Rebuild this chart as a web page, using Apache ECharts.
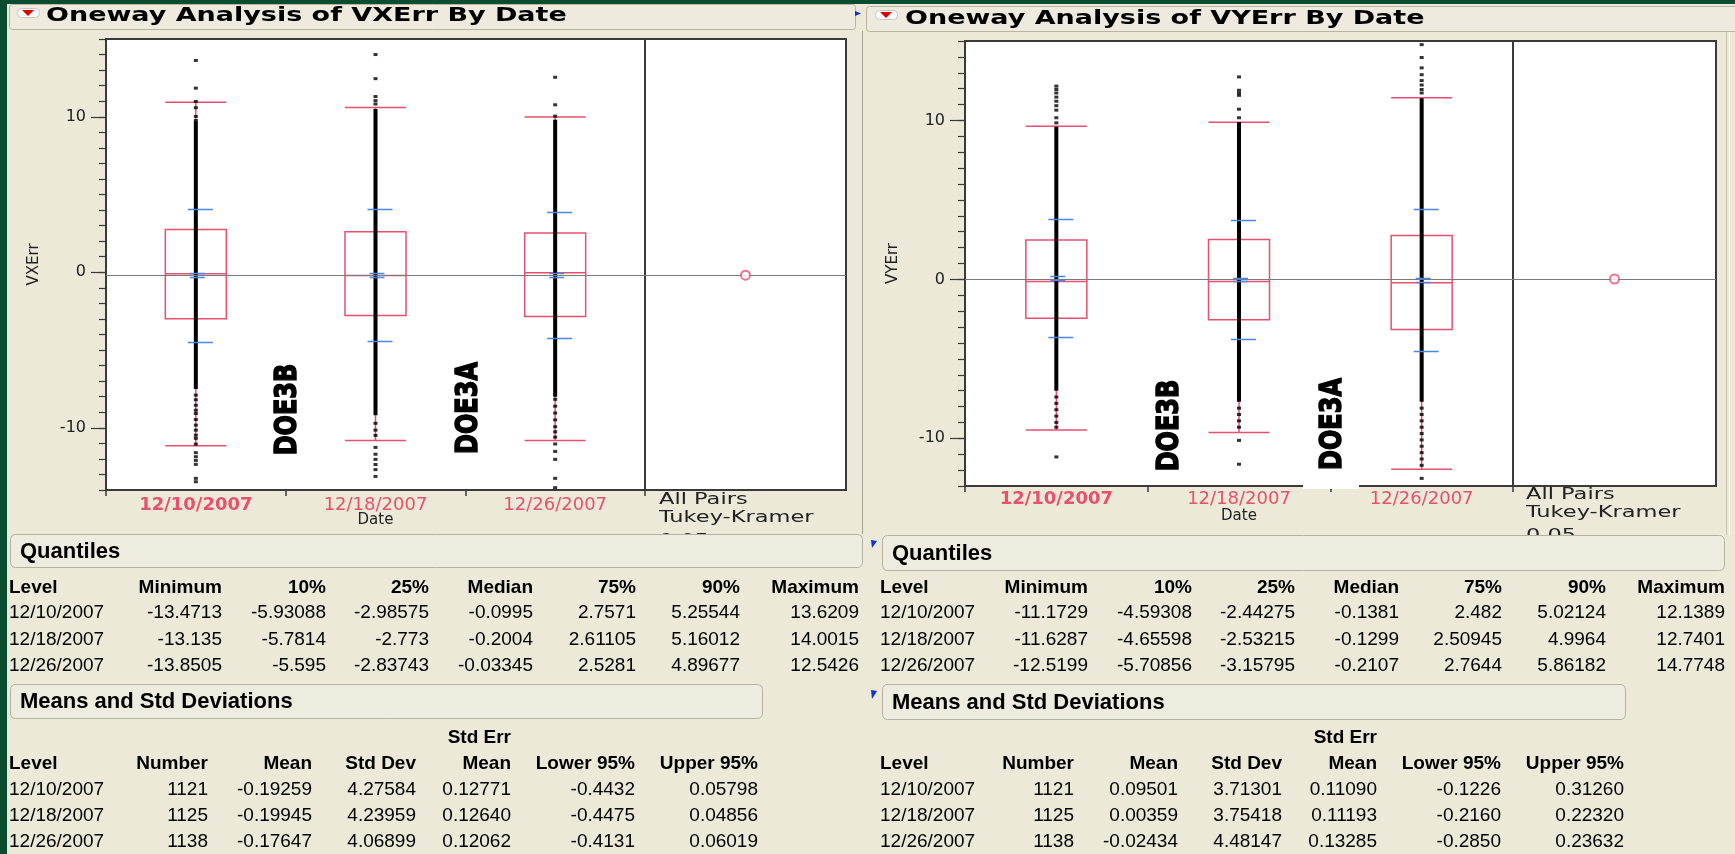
<!DOCTYPE html>
<html><head><meta charset="utf-8">
<script src="https://cdn.jsdelivr.net/npm/echarts@6/dist/echarts.min.js"></script>
<style>html,body{margin:0;padding:0;background:#ECE9D8;}#c{width:1735px;height:854px;}</style>
</head><body><div id="c"></div>
<script>
// ---------------- DATA ----------------
const dates = ['12/10/2007', '12/18/2007', '12/26/2007'];
const yTickLabels = [-10, 0, 10];

// VXErr quantiles
const vxMin = [-13.4713, -13.135, -13.8505];
const vxP10 = [-5.93088, -5.7814, -5.595];
const vxQ1 = [-2.98575, -2.773, -2.83743];
const vxMedian = [-0.0995, -0.2004, -0.03345];
const vxQ3 = [2.7571, 2.61105, 2.5281];
const vxP90 = [5.25544, 5.16012, 4.89677];
const vxMax = [13.6209, 14.0015, 12.5426];
// VXErr means
const vxNumber = [1121, 1125, 1138];
const vxMean = [-0.19259, -0.19945, -0.17647];
const vxStdDev = [4.27584, 4.23959, 4.06899];
const vxStdErr = [0.12771, 0.12640, 0.12062];
const vxLower95 = [-0.4432, -0.4475, -0.4131];
const vxUpper95 = [0.05798, 0.04856, 0.06019];
// VXErr box whisker ends, dense point band, sparse points
const vxWhiskerLow = [-11.16, -10.82, -10.82];
const vxWhiskerHigh = [10.94, 10.6, 9.98];
const vxDenseLow = [-7.5, -9.2, -8.0];
const vxDenseHigh = [9.7, 10.5, 9.8];
const vxSparse = [
  [13.62, 11.84, 10.98, 10.58, 10.02, 9.76, -7.9, -8.2, -8.55, -8.87, -9.08, -9.47, -9.83, -10.15, -10.47, -10.68, -11.05, -11.6, -11.86, -12.1, -12.35, -13.25, -13.47],
  [14.0, 12.45, 11.3, 11.04, 10.82, -9.71, -10.15, -10.49, -11.26, -11.7, -12.03, -12.36, -12.69, -13.13],
  [12.54, 10.77, 10.04, -8.17, -8.61, -9.05, -9.49, -9.93, -10.26, -10.6, -11.04, -11.52, -12.03, -13.25, -13.85]
];

// VYErr quantiles
const vyMin = [-11.1729, -11.6287, -12.5199];
const vyP10 = [-4.59308, -4.65598, -5.70856];
const vyQ1 = [-2.44275, -2.53215, -3.15795];
const vyMedian = [-0.1381, -0.1299, -0.2107];
const vyQ3 = [2.482, 2.50945, 2.7644];
const vyP90 = [5.02124, 4.9964, 5.86182];
const vyMax = [12.1389, 12.7401, 14.7748];
// VYErr means
const vyNumber = [1121, 1125, 1138];
const vyMean = [0.09501, 0.00359, -0.02434];
const vyStdDev = [3.71301, 3.75418, 4.48147];
const vyStdErr = [0.11090, 0.11193, 0.13285];
const vyLower95 = [-0.1226, -0.2160, -0.2850];
const vyUpper95 = [0.31260, 0.22320, 0.23632];
const vyWhiskerLow = [-9.48, -9.63, -11.95];
const vyWhiskerHigh = [9.63, 9.89, 11.43];
const vyDenseLow = [-7.0, -7.7, -7.7];
const vyDenseHigh = [9.6, 9.9, 11.4];
const vySparse = [
  [12.16, 11.95, 11.73, 11.47, 11.21, 10.93, 10.65, 10.17, 9.85, -7.4, -7.8, -8.2, -8.6, -9.0, -9.3, -11.17],
  [12.74, 11.9, 11.73, 11.58, 10.71, 10.17, -8.1, -8.5, -8.9, -9.3, -10.13, -11.63],
  [14.77, 13.96, 13.31, 12.88, 12.51, 12.23, 11.95, 11.73, -8.1, -8.5, -8.9, -9.3, -9.7, -10.1, -10.5, -10.9, -11.3, -11.7, -12.52]
];

const qHeaders = ['Level', 'Minimum', '10%', '25%', 'Median', '75%', '90%', 'Maximum'];
const mHeaders = ['Level', 'Number', 'Mean', 'Std Dev', 'Mean', 'Lower 95%', 'Upper 95%'];

// ---------------- STYLE / LAYOUT ----------------
const PINK = '#E8506E', BLUE = '#4A86E8', GREEN = '#0B4B2F', BEIGE = '#ECE9D8';
const AX = '#3a3a3a';
const FONT_PLOT = 'DejaVu Sans';
const FONT_TAB = 'Liberation Sans';

function grandMean(means, ns) {
  let s = 0, n = 0;
  means.forEach((m, i) => { s += m * ns[i]; n += ns[i]; });
  return s / n;
}
const vxGrand = grandMean(vxMean, vxNumber);
const vyGrand = grandMean(vyMean, vyNumber);

function denseRender(params, api) {
  const c = api.value(0);
  const p1 = api.coord([c, api.value(2)]);
  const p2 = api.coord([c, api.value(1)]);
  return { type: 'rect', shape: { x: p1[0] - 2, y: p1[1], width: 4, height: p2[1] - p1[1] }, style: { fill: '#000' } };
}
function blueRender(params, api) {
  const c = api.value(0), m = api.value(1), sd = api.value(2), se = api.value(3);
  const cx = api.coord([c, m])[0];
  const ln = (v, a, b) => {
    const y = Math.round(api.coord([c, v])[1]) + 0.5;
    return { type: 'line', shape: { x1: cx + a, y1: y, x2: cx + b, y2: y }, style: { stroke: BLUE, lineWidth: 1.5 } };
  };
  return { type: 'group', children: [ln(m + sd, -8, 17), ln(m - sd, -8, 17), ln(m + se, -6, 9), ln(m - se, -6, 9)] };
}

function panelSeries(xi, yi, cxi, cyi, q1, med, q3, wl, wh, dl, dh, sparse, mean, sd, se, gm) {
  const pts = [];
  sparse.forEach((arr, i) => arr.forEach(v => pts.push([i, v])));
  const ml = { silent: true, symbol: 'none', label: { show: false }, lineStyle: { color: '#7a7a7a', width: 1, type: 'solid' }, data: [{ yAxis: gm }] };
  return [
    { type: 'line', xAxisIndex: xi, yAxisIndex: yi, data: [], z: 1, markLine: ml },
    { type: 'boxplot', xAxisIndex: xi, yAxisIndex: yi, z: 3, boxWidth: [61, 61], silent: true,
      itemStyle: { color: 'rgba(255,255,255,0)', borderColor: PINK, borderWidth: 1.5 },
      data: dates.map((d, i) => [wl[i], q1[i], med[i], q3[i], wh[i]]) },
    { type: 'custom', xAxisIndex: xi, yAxisIndex: yi, z: 4, silent: true, renderItem: denseRender,
      encode: { x: 0, y: [1, 2] }, data: dates.map((d, i) => [i, dl[i], dh[i]]) },
    { type: 'scatter', xAxisIndex: xi, yAxisIndex: yi, z: 5, silent: true, symbol: 'rect', symbolSize: [4, 3],
      itemStyle: { color: '#000' }, data: pts },
    { type: 'custom', xAxisIndex: xi, yAxisIndex: yi, z: 6, silent: true, renderItem: blueRender,
      encode: { x: 0, y: 1 }, data: dates.map((d, i) => [i, mean[i], sd[i], se[i]]) },
    { type: 'scatter', xAxisIndex: cxi, yAxisIndex: cyi, z: 5, silent: true, symbol: 'emptyCircle', symbolSize: 9,
      itemStyle: { color: PINK, borderColor: PINK, borderWidth: 3 }, data: [[0.5, gm]], markLine: ml }
  ];
}

function catAxis(gi, gap, margin) {
  return {
    type: 'category', gridIndex: gi, data: dates, boundaryGap: true, position: 'bottom',
    axisLine: { show: false, onZero: false },
    axisTick: { show: true, interval: 0, length: 6, alignWithLabel: false, lineStyle: { color: AX, width: 1.5 } },
    axisLabel: { interval: 0, margin: margin, color: PINK, fontFamily: FONT_PLOT, fontSize: 18,
      formatter: (v, i) => i === 0 ? '{b|' + v + '}' : v,
      rich: { b: { fontWeight: 'bold', color: PINK, fontSize: 18, fontFamily: FONT_PLOT } } },
    name: 'Date', nameLocation: 'middle', nameGap: gap, nameMoveOverlap: false,
    nameTextStyle: { color: '#222', fontFamily: FONT_PLOT, fontSize: 15 }
  };
}
function hiddenX(gi) { return { type: 'value', gridIndex: gi, min: 0, max: 1, show: false }; }
function mainY(gi, min, max, name) {
  return {
    type: 'value', gridIndex: gi, min: min, max: max, interval: 1, position: 'left',
    axisLine: { show: false, onZero: false }, splitLine: { show: false },
    axisTick: { show: true, customValues: yTickLabels, length: 15, lineStyle: { color: AX, width: 1.2 } },
    axisLabel: { customValues: yTickLabels, margin: 20, fontSize: 16, fontFamily: FONT_PLOT, color: '#222',
      formatter: v => (v % 10 === 0 ? String(v) : '') },
    name: name, nameLocation: 'middle', nameGap: 64, nameRotate: 90,
    nameTextStyle: { color: '#222', fontFamily: FONT_PLOT, fontSize: 15 }
  };
}
function minorY(gi, min, max) {
  return { type: 'value', gridIndex: gi, min: min, max: max, interval: 1, position: 'left',
    axisLine: { show: false, onZero: false }, splitLine: { show: false }, axisLabel: { show: false },
    axisTick: { show: true, length: 7, lineStyle: { color: AX, width: 1.2 } } };
}
function hiddenY(gi, min, max) { return { type: 'value', gridIndex: gi, min: min, max: max, show: false }; }

// ---------------- GRAPHIC (panels, titles, tables) ----------------
const G = [];
function rect(x, y, w, h, fill, stroke, r, z) {
  G.push({ type: 'rect', z: z || 50, silent: true, shape: { x: x, y: y, width: w, height: h, r: r || 0 },
    style: { fill: fill, stroke: stroke || null, lineWidth: stroke ? 1 : 0 } });
}
function text(x, y, s, o) {
  o = o || {};
  const st = { text: s, x: 0, y: 0, fontSize: o.size || 19, fontFamily: o.family || FONT_TAB,
      fontWeight: o.weight || 'normal', fill: o.color || '#000',
      textAlign: o.align || 'left', textVerticalAlign: 'middle', align: o.align || 'left', verticalAlign: 'middle' };
  if (o.stroke) { st.stroke = o.color || '#000'; st.lineWidth = o.stroke; }
  G.push({ type: 'text', z: o.z || 100, silent: true, x: x, y: y, rotation: o.rot || 0,
    scaleX: o.sx || 1, scaleY: o.sy || 1, style: st });
}
function poly(points, fill, z) {
  G.push({ type: 'polygon', z: z || 60, silent: true, shape: { points: points }, style: { fill: fill } });
}
function vline(x, y1, y2, color) {
  G.push({ type: 'line', z: 55, silent: true, shape: { x1: x, y1: y1, x2: x, y2: y2 }, style: { stroke: color, lineWidth: 1 } });
}

// dark green slide background strips
rect(0, 0, 1735, 4, GREEN, null, 0, 40);
rect(0, 0, 7, 854, GREEN, null, 0, 40);

// report header bars
rect(9.5, 4.5, 846, 25, '#EEEBDE', '#B8B4A0', 3);
rect(866.5, 6.5, 880, 25, '#EEEBDE', '#B8B4A0', 3);
// disclosure icons
[[17, 8], [875, 10]].forEach(p => {
  rect(p[0] + 0.5, p[1] + 0.5, 22, 9, '#FFFFFF', '#C9C6B4', 4, 60);
  poly([[p[0] + 5, p[1] + 2], [p[0] + 17, p[1] + 2], [p[0] + 11, p[1] + 8]], '#E00000', 61);
});
poly([[855, 11], [861, 13.5], [855, 16]], '#1030E0');
text(46, 16.5, 'Oneway Analysis of VXErr By Date', { family: 'DejaVu Sans', weight: 'bold', size: 19, sx: 1.42 });
text(905, 19, 'Oneway Analysis of VYErr By Date', { family: 'DejaVu Sans', weight: 'bold', size: 19, sx: 1.42 });

// report outlines
vline(862.5, 31, 534, '#A9A592');
vline(1726.5, 32, 535, '#C6C2AE');
vline(1729.5, 32, 535, '#FFFFFF');

// All Pairs / Tukey-Kramer labels
[['All Pairs', 0, 0], ['Tukey-Kramer', 1, 0], ['0.05', 2, 5]].forEach(t => {
  text(659, 500 + 18 * t[1] + t[2], t[0], { family: 'DejaVu Sans', size: 15, sx: 1.5, color: '#222', z: 90 });
  text(1526, 495 + 18 * t[1] + t[2], t[0], { family: 'DejaVu Sans', size: 15, sx: 1.5, color: '#222', z: 90 });
});

// DOE annotations
[[288.6, 409.5, 'DOE3B'], [469, 408, 'DOE3A'], [1170, 425.5, 'DOE3B'], [1333, 424, 'DOE3A']].forEach(d => {
  text(d[0], d[1], d[2], { family: 'DejaVu Sans', weight: 'bold', size: 24, rot: Math.PI / 2, sy: 1.25, align: 'center', z: 110, stroke: 1.2 });
});
rect(1303, 485, 56, 4, '#FFFFFF', null, 0, 105);

// section bars
function sectionBar(x, y, w, h, label) {
  rect(x + 0.5, y + 0.5, w, h, '#EEEBDF', '#B5B1A0', 5, 95);
  text(x + 10, y + h / 2 + 1, label, { weight: 'bold', size: 22, z: 96 });
}
sectionBar(10, 534, 852, 33, 'Quantiles');
sectionBar(10, 684, 752, 34, 'Means and Std Deviations');
sectionBar(882, 535, 842, 35, 'Quantiles');
sectionBar(882, 684, 743, 35, 'Means and Std Deviations');
poly([[871, 540], [877, 541], [872, 548]], '#1030E0', 97);
poly([[871, 690], [877, 691], [872, 699]], '#1030E0', 97);

// tables
const qColX = [9, 222, 326, 429, 533, 636, 740, 859];
const mColX = [9, 208, 312, 416, 511, 635, 758];
function tables(dx, q, m) {
  const lx = dx === 0 ? 9 : 880;
  qHeaders.forEach((h, j) => text(j === 0 ? lx : qColX[j] + dx, 588, h, { weight: 'bold', align: j === 0 ? 'left' : 'right' }));
  dates.forEach((d, i) => {
    const vals = [d].concat(q.map(col => String(col[i])));
    vals.forEach((v, j) => text(j === 0 ? lx : qColX[j] + dx, 613 + 26.5 * i, v, { align: j === 0 ? 'left' : 'right' }));
  });
  text(mColX[4] + dx, 738, 'Std Err', { weight: 'bold', align: 'right' });
  mHeaders.forEach((h, j) => text(j === 0 ? lx : mColX[j] + dx, 764, h, { weight: 'bold', align: j === 0 ? 'left' : 'right' }));
  dates.forEach((d, i) => {
    const vals = [d, String(m[0][i]), m[1][i].toFixed(5), m[2][i].toFixed(5), m[3][i].toFixed(5), m[4][i].toFixed(4), m[5][i].toFixed(5)];
    vals.forEach((v, j) => text(j === 0 ? lx : mColX[j] + dx, 790 + 26 * i, v, { align: j === 0 ? 'left' : 'right' }));
  });
}
tables(0, [vxMin, vxP10, vxQ1, vxMedian, vxQ3, vxP90, vxMax], [vxNumber, vxMean, vxStdDev, vxStdErr, vxLower95, vxUpper95]);
tables(866, [vyMin, vyP10, vyQ1, vyMedian, vyQ3, vyP90, vyMax], [vyNumber, vyMean, vyStdDev, vyStdErr, vyLower95, vyUpper95]);

// ---------------- OPTION ----------------
const gridStyle = { show: true, backgroundColor: '#FFFFFF', borderColor: AX, borderWidth: 2, outerBoundsMode: 'none', containLabel: false };
const option = {
  animation: false,
  backgroundColor: BEIGE,
  grid: [
    Object.assign({ left: 106, top: 39, width: 539, height: 451 }, gridStyle),
    Object.assign({ left: 645, top: 39, width: 201, height: 451 }, gridStyle),
    Object.assign({ left: 965, top: 41, width: 548, height: 445 }, gridStyle),
    Object.assign({ left: 1513, top: 41, width: 203, height: 445 }, gridStyle)
  ],
  xAxis: [catAxis(0, 23, 6), hiddenX(1), catAxis(2, 23, 4), hiddenX(3)],
  yAxis: [mainY(0, -14, 15, 'VXErr'), minorY(0, -14, 15), hiddenY(1, -14, 15),
          mainY(2, -13, 15, 'VYErr'), minorY(2, -13, 15), hiddenY(3, -13, 15)],
  series: [].concat(
    panelSeries(0, 0, 1, 2, vxQ1, vxMedian, vxQ3, vxWhiskerLow, vxWhiskerHigh, vxDenseLow, vxDenseHigh, vxSparse, vxMean, vxStdDev, vxStdErr, vxGrand),
    panelSeries(2, 3, 3, 5, vyQ1, vyMedian, vyQ3, vyWhiskerLow, vyWhiskerHigh, vyDenseLow, vyDenseHigh, vySparse, vyMean, vyStdDev, vyStdErr, vyGrand)
  ),
  graphic: G
};
const chart = echarts.init(document.getElementById('c'));
chart.setOption(option);
</script></body></html>
